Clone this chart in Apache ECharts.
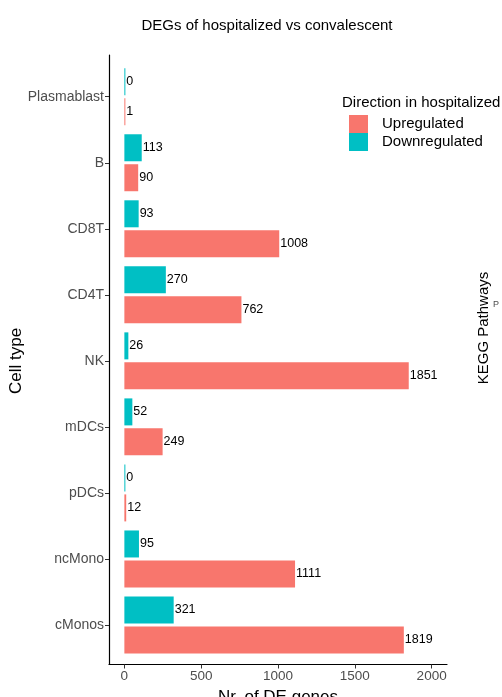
<!DOCTYPE html>
<html>
<head>
<meta charset="utf-8">
<script src="https://cdn.jsdelivr.net/npm/echarts@6/dist/echarts.min.js"></script>
<style>
  html, body { margin: 0; padding: 0; background: #fff; }
  #chart { width: 502px; height: 697px; }
</style>
</head>
<body>
<div id="chart"></div>
<script>
/* ===== data ===== */
const cellTypes = ["Plasmablast", "B", "CD8T", "CD4T", "NK", "mDCs", "pDCs", "ncMono", "cMonos"];
const downValues = [0, 113, 93, 270, 26, 52, 0, 95, 321];
const upValues = [1, 90, 1008, 762, 1851, 249, 12, 1111, 1819];
const xTicks = [0, 500, 1000, 1500, 2000];

const UP = "#F8766D";
const DOWN = "#00BFC4";
const FONT = "Liberation Sans";

const chart = echarts.init(document.getElementById("chart"));

const barLabel = {
  show: true,
  position: "right",
  distance: 1,
  color: "#000",
  fontSize: 12.5,
  fontFamily: FONT,
};

chart.setOption({
  animation: false,
  textStyle: { fontFamily: FONT },
  title: [
    {
      text: "DEGs of hospitalized vs convalescent",
      left: 267,
      top: 18,
      padding: 0,
      textAlign: "center",
      textStyle: { fontSize: 15, fontWeight: "normal", color: "#000", fontFamily: FONT },
    },
    {
      text: "Direction in hospitalized",
      left: 342,
      top: 95,
      padding: 0,
      textStyle: { fontSize: 15, fontWeight: "normal", color: "#000", fontFamily: FONT },
    },
  ],
  legend: {
    data: ["Upregulated", "Downregulated"],
    orient: "vertical",
    left: 349,
    top: 115,
    padding: 0,
    itemWidth: 19,
    itemHeight: 18,
    itemGap: 0,
    icon: "rect",
    textStyle: { fontSize: 15, color: "#000", fontFamily: FONT, padding: [0, 0, 0, 9] },
  },
  // grid 0 = bars, grid 1 = full panel (axis lines)
  grid: [
    { left: 109, right: 55, top: 63.7, bottom: 39, containLabel: false, outerBoundsMode: "none" },
    { left: 109, right: 55, top: 55, bottom: 32.5, containLabel: false, outerBoundsMode: "none" },
  ],
  xAxis: [
    {
      gridIndex: 0,
      type: "value",
      min: -100,
      max: 2100,
      show: false,
      splitLine: { show: false },
    },
    {
      gridIndex: 1,
      type: "value",
      min: -100,
      max: 2100,
      name: "Nr. of DE genes",
      nameLocation: "middle",
      nameGap: 24,
      nameMoveOverlap: false,
      nameTextStyle: { fontSize: 17, color: "#000", fontFamily: FONT },
      axisLine: { show: true, onZero: false, lineStyle: { color: "#000", width: 1.2 } },
      axisTick: { show: true, length: 4, lineStyle: { color: "#333" }, customValues: xTicks },
      axisLabel: {
        color: "#4d4d4d",
        fontSize: 13.5,
        margin: 5,
        fontFamily: FONT,
        customValues: xTicks,
        formatter: (v) => String(v),
      },
      splitLine: { show: false },
    },
  ],
  yAxis: [
    {
      gridIndex: 0,
      type: "category",
      data: cellTypes,
      inverse: true,
      axisLine: { show: false, onZero: false },
      axisTick: { show: true, length: 4, alignWithLabel: true, lineStyle: { color: "#333" } },
      axisLabel: { color: "#4d4d4d", fontSize: 14, margin: 5, fontFamily: FONT },
      name: "Cell type",
      nameLocation: "middle",
      nameGap: 84,
      nameMoveOverlap: false,
      nameRotate: 90,
      nameTextStyle: { fontSize: 17, color: "#000", fontFamily: FONT },
    },
    {
      gridIndex: 1,
      type: "value",
      min: 0,
      max: 1,
      axisLine: { show: true, onZero: false, lineStyle: { color: "#000", width: 1.2 } },
      axisTick: { show: false },
      axisLabel: { show: false },
      splitLine: { show: false },
    },
  ],
  series: [
    {
      name: "Downregulated",
      type: "bar",
      xAxisIndex: 0,
      yAxisIndex: 0,
      data: downValues,
      barWidth: 27,
      barGap: "11%",
      barMinHeight: 1,
      itemStyle: { color: DOWN },
      label: barLabel,
    },
    {
      name: "Upregulated",
      type: "bar",
      xAxisIndex: 0,
      yAxisIndex: 0,
      data: upValues,
      barWidth: 27,
      barGap: "11%",
      barMinHeight: 1,
      itemStyle: { color: UP },
      label: barLabel,
    },
  ],
  graphic: [
    {
      type: "text",
      x: 484,
      y: 328,
      rotation: Math.PI / 2,
      style: {
        text: "KEGG Pathways",
        fontSize: 15,
        fontFamily: FONT,
        fill: "#000",
        align: "center",
        verticalAlign: "middle",
      },
    },
    {
      type: "text",
      x: 493,
      y: 300,
      style: { text: "P", fontSize: 9, fontFamily: FONT, fill: "#4d4d4d" },
    },
  ],
});
</script>
</body>
</html>
